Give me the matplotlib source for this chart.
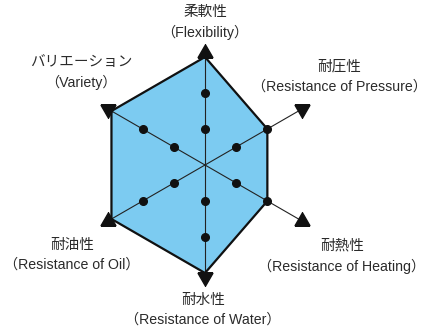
import numpy as np
import matplotlib.pyplot as plt

# radar chart data (clockwise from top)
labels_jp = ['柔軟性', '耐圧性', '耐熱性', '耐水性', '耐油性', 'バリエーション']
labels_en = ['Flexibility', 'Resistance of Pressure', 'Resistance of Heating',
             'Resistance of Water', 'Resistance of Oil', 'Variety']
values = [3, 2, 2, 3, 3, 3]
levels = [1, 2]
axis_len = 3.12

W, H = 429, 329
fig = plt.figure(figsize=(W / 100, H / 100), dpi=100)

cx, cy, R = 205, 165, 126
ax = fig.add_axes([(cx - R) / W, (H - cy - R) / H, 2 * R / W, 2 * R / H], projection='polar')
ax.set_theta_zero_location('N')
ax.set_theta_direction(-1)
ax.set_ylim(0, 3.5)
ax.axis('off')

n = len(values)
angles = np.arange(n) * 2 * np.pi / n

# filled polygon
t = np.append(angles, angles[0])
v = np.append(values, values[0])
ax.fill(t, v, color='#7ccbf1', zorder=1)
ax.plot(t, v, color='#111111', lw=1.6, zorder=3, solid_joinstyle='miter')

# spokes, dots and arrow heads
for a in angles:
    ax.plot([a, a], [0, axis_len], color='#222222', lw=0.8, zorder=2)
    ax.plot([a] * len(levels), levels, 'o', color='#111111', ms=5.5, zorder=4)
    rot = -np.degrees(a)
    ax.plot([a], [axis_len], marker=(3, 0, rot), color='#111111', ms=12.5, zorder=5)

# labels (pixel centres of the two lines)
label_pos = [(205, 12, 32), (339, 67, 87), (342, 246, 266),
             (203, 300, 320), (72, 245, 265), (81, 62, 82)]
jp_font = ['Noto Sans CJK JP', 'DejaVu Sans']
en_font = ['Liberation Sans', 'Noto Sans CJK JP']
for jp, en, (x, y1, y2) in zip(labels_jp, labels_en, label_pos):
    fig.text(x / W, 1 - y1 / H, jp, ha='center', va='center', fontsize=10.5,
             family=jp_font, color='#2a2a2a')
    fig.text(x / W, 1 - y2 / H, '（' + en + '）', ha='center', va='center',
             fontsize=10.2, family=en_font, color='#2a2a2a')

fig.savefig('out.png', dpi=100)
